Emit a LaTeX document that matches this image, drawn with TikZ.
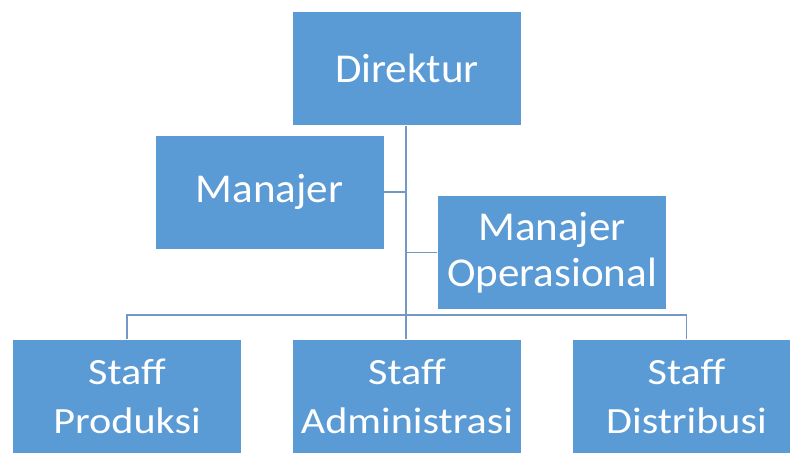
\documentclass[tikz,border=0pt]{standalone}
\usepackage{fontspec}
\setmainfont{Carlito}
\newfontfamily\bigfam[FakeStretch=1.05]{Carlito}
\newfontfamily\stafffam[FakeStretch=1.14]{Carlito}
\definecolor{boxblue}{HTML}{5B9BD5}
\definecolor{linkblue}{HTML}{7498C4}
\begin{document}
\begin{tikzpicture}[x=1pt,y=-1pt,
  orgbox/.style={fill=boxblue,draw=white,line width=0.6pt,minimum width=229pt,minimum height=114pt,
    text=white,align=center,inner sep=0pt},
  big/.style={font=\bigfam\fontsize{41}{46}\selectfont},
  small/.style={font=\stafffam\fontsize{37}{49}\selectfont},
  link/.style={draw=linkblue,line width=1.6pt}]
\useasboundingbox (0,0) rectangle (790,455);
\clip (0,0) rectangle (790,455);
\node[orgbox,big] (dir) at (407,68.5) {Direktur};
\node[orgbox,big] (man) at (269.5,192) {Manajer};
\node[orgbox,big] (mop) at (552,252.5) {Manajer\\Operasional};
\node[orgbox,small] (prod) at (127,396.5) {Staff\\Produksi};
\node[orgbox,small] (adm) at (407,396.5) {Staff\\Administrasi};
\node[orgbox,small] (dist) at (686.5,396.5) {Staff\\Distribusi};
\coordinate (bus) at (406,315);
\coordinate (top) at (406,126);
\draw[link] (top) -- (adm.north -| top);
\draw[link] (man.east) -- (man.east -| top);
\draw[link] (mop.west) -- (mop.west -| top);
\draw[link] (prod.north) |- (bus) -| (dist.north);
\end{tikzpicture}
\end{document}
